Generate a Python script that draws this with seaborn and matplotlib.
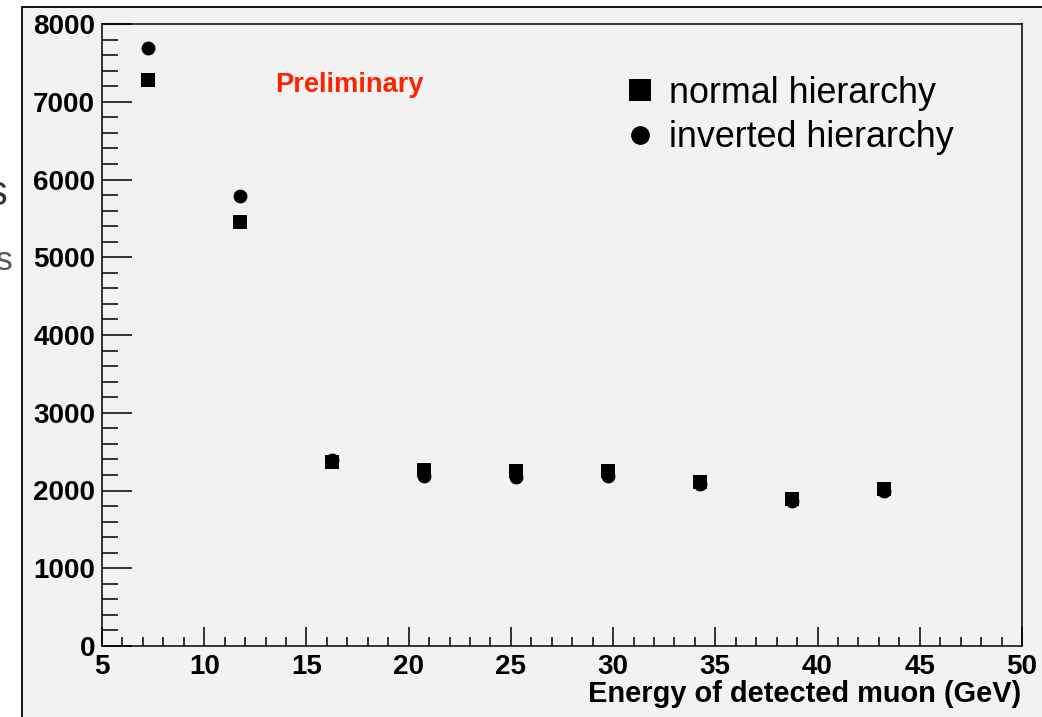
import matplotlib
matplotlib.use("Agg")
import matplotlib.pyplot as plt
import seaborn as sns
import pandas as pd
from matplotlib.lines import Line2D
from matplotlib.patches import Rectangle
from matplotlib.ticker import MultipleLocator, FixedLocator

# ---- data ----
energy = [7.25, 11.75, 16.25, 20.75, 25.25, 29.75, 34.25, 38.75, 43.25]
normal_hierarchy = [7280, 5453, 2367, 2264, 2251, 2251, 2109, 1891, 2019]
inverted_hierarchy = [7691, 5788, 2393, 2186, 2174, 2186, 2084, 1865, 1994]
series_labels = ["normal hierarchy", "inverted hierarchy"]
x_ticks = [5, 10, 15, 20, 25, 30, 35, 40, 45, 50]
y_ticks = [0, 1000, 2000, 3000, 4000, 5000, 6000, 7000, 8000]
x_label = "Energy of detected muon (GeV)"
note_text = "Preliminary"

sns.set_theme(style="ticks")
plt.rcParams['font.family'] = ['Liberation Sans', 'DejaVu Sans']

W, H = 1042, 717
fig = plt.figure(figsize=(W / 100, H / 100), dpi=100, facecolor='white')
BG = '#f2f2f2'

# slide panel behind the chart
fig.patches.append(Rectangle((22 / W, 0), 1, (H - 7) / H, transform=fig.transFigure,
                             facecolor=BG, edgecolor='none', zorder=-5))
fig.add_artist(Line2D([22 / W, 22 / W], [0, (H - 7) / H], color='black', lw=1.3,
                      transform=fig.transFigure, zorder=-4))
fig.add_artist(Line2D([22 / W, 1], [(H - 7) / H, (H - 7) / H], color='black', lw=1.3,
                      transform=fig.transFigure, zorder=-4))
# clipped slide text on the left (cut off in the reference too)
fig.text(8 / W, (H - 194) / H, "s", ha='right', va='center', fontsize=30, color='#333333')
fig.text(12 / W, (H - 262) / H, "s", ha='right', va='center', fontsize=24, color='#555555')

ax = fig.add_axes([102 / W, 71 / H, 920 / W, 622 / H])
ax.set_facecolor(BG)

df_norm = pd.DataFrame({"energy": energy, "count": normal_hierarchy, "series": series_labels[0]})
df_inv = pd.DataFrame({"energy": energy, "count": inverted_hierarchy, "series": series_labels[1]})

sns.scatterplot(data=df_inv, x="energy", y="count", marker='o', s=100, color='black',
                linewidth=0, ax=ax, legend=False, zorder=3)
sns.scatterplot(data=df_norm, x="energy", y="count", marker='s', s=100, color='black',
                linewidth=0, ax=ax, legend=False, zorder=4)

ax.set_xlim(x_ticks[0], x_ticks[-1])
ax.set_ylim(y_ticks[0], y_ticks[-1])
ax.xaxis.set_major_locator(FixedLocator(x_ticks))
ax.yaxis.set_major_locator(FixedLocator(y_ticks))
ax.xaxis.set_minor_locator(MultipleLocator(1))
ax.yaxis.set_minor_locator(MultipleLocator(200))
ax.set_xlabel("")
ax.set_ylabel("")

for sp in ax.spines.values():
    sp.set_visible(True)
    sp.set_color('black')
    sp.set_linewidth(1.1)

ax.tick_params(axis='y', which='major', direction='in', length=21.6, width=1.1,
               labelsize=20, pad=5, colors='black')
ax.tick_params(axis='y', which='minor', direction='in', length=11.5, width=1.1, colors='black')
ax.tick_params(axis='x', which='major', direction='in', length=13.7, width=1.1,
               labelsize=20, pad=6, colors='black')
ax.tick_params(axis='x', which='minor', direction='in', length=6.5, width=1.1, colors='black')
ax.tick_params(top=False, right=False, which='both')
plt.setp(ax.get_xticklabels() + ax.get_yticklabels(), fontweight='bold')

fig.text(1021 / W, 15 / H, x_label, ha='right', va='baseline', fontsize=20.9,
         fontweight='bold', color='black')

ax.text((275 - 102) / 920, (646 - 92) / 622, note_text, transform=ax.transAxes,
        ha='left', va='baseline', fontsize=19.6, fontweight='bold', color='#ff2200')

handles = [Line2D([], [], marker='s', ls='none', color='black', markersize=15.5, markeredgewidth=0),
           Line2D([], [], marker='o', ls='none', color='black', markersize=13.5, markeredgewidth=0)]
leg = ax.legend(handles, series_labels, loc='upper left',
                bbox_to_anchor=(622 / W, (H - 76) / H), bbox_transform=fig.transFigure,
                frameon=False, fontsize=25.8, handlelength=1.0, handletextpad=0.3,
                labelspacing=0.26, borderpad=0, borderaxespad=0)
for t in leg.get_texts():
    t.set_color('black')

fig.savefig("out.png", dpi=100, facecolor='white')
